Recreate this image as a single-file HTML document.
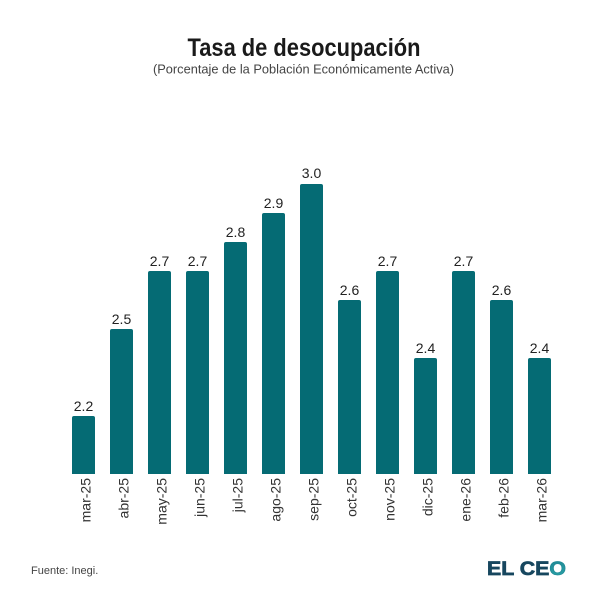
<!DOCTYPE html>
<html>
<head>
<meta charset="utf-8">
<style>
  html, body { margin: 0; padding: 0; background: #ffffff; }
  svg { display: block; font-family: "Liberation Sans", sans-serif; }
</style>
</head>
<body>
<svg width="600" height="600" viewBox="0 0 600 600" xmlns="http://www.w3.org/2000/svg">
  <defs>
    <linearGradient id="og" x1="0" y1="0" x2="1" y2="1">
      <stop offset="0" stop-color="#1a6f84"/>
      <stop offset="1" stop-color="#2aa7aa"/>
    </linearGradient>
  </defs>
  <rect width="600" height="600" fill="#ffffff"/>

  <text x="304" y="56" text-anchor="middle" font-size="25" font-weight="bold" fill="#1a1a1a" textLength="233" lengthAdjust="spacingAndGlyphs">Tasa de desocupación</text>
  <text x="303.5" y="73.5" text-anchor="middle" font-size="13" fill="#444" textLength="301" lengthAdjust="spacingAndGlyphs">(Porcentaje de la Población Económicamente Activa)</text>

  <g fill="#056b74">
    <path d="M72,474 V418 Q72,416 74,416 H93 Q95,416 95,418 V474 Z"/>
    <path d="M110,474 V331 Q110,329 112,329 H131 Q133,329 133,331 V474 Z"/>
    <path d="M148,474 V273 Q148,271 150,271 H169 Q171,271 171,273 V474 Z"/>
    <path d="M186,474 V273 Q186,271 188,271 H207 Q209,271 209,273 V474 Z"/>
    <path d="M224,474 V244 Q224,242 226,242 H245 Q247,242 247,244 V474 Z"/>
    <path d="M262,474 V215 Q262,213 264,213 H283 Q285,213 285,215 V474 Z"/>
    <path d="M300,474 V186 Q300,184 302,184 H321 Q323,184 323,186 V474 Z"/>
    <path d="M338,474 V302 Q338,300 340,300 H359 Q361,300 361,302 V474 Z"/>
    <path d="M376,474 V273 Q376,271 378,271 H397 Q399,271 399,273 V474 Z"/>
    <path d="M414,474 V360 Q414,358 416,358 H435 Q437,358 437,360 V474 Z"/>
    <path d="M452,474 V273 Q452,271 454,271 H473 Q475,271 475,273 V474 Z"/>
    <path d="M490,474 V302 Q490,300 492,300 H511 Q513,300 513,302 V474 Z"/>
    <path d="M528,474 V360 Q528,358 530,358 H549 Q551,358 551,360 V474 Z"/>
  </g>

  <g font-size="14" fill="#222" text-anchor="middle">
    <text x="83.5" y="411">2.2</text>
    <text x="121.5" y="324">2.5</text>
    <text x="159.5" y="266">2.7</text>
    <text x="197.5" y="266">2.7</text>
    <text x="235.5" y="237">2.8</text>
    <text x="273.5" y="208">2.9</text>
    <text x="311.5" y="178">3.0</text>
    <text x="349.5" y="295">2.6</text>
    <text x="387.5" y="266">2.7</text>
    <text x="425.5" y="353">2.4</text>
    <text x="463.5" y="266">2.7</text>
    <text x="501.5" y="295">2.6</text>
    <text x="539.5" y="353">2.4</text>
  </g>

  <g font-size="14" fill="#333" text-anchor="end">
    <text transform="translate(90.5,478) rotate(-90)">mar-25</text>
    <text transform="translate(128.5,478) rotate(-90)">abr-25</text>
    <text transform="translate(166.5,478) rotate(-90)">may-25</text>
    <text transform="translate(204.5,478) rotate(-90)">jun-25</text>
    <text transform="translate(242.5,478) rotate(-90)">jul-25</text>
    <text transform="translate(280.5,478) rotate(-90)">ago-25</text>
    <text transform="translate(318.5,478) rotate(-90)">sep-25</text>
    <text transform="translate(356.5,478) rotate(-90)">oct-25</text>
    <text transform="translate(394.5,478) rotate(-90)">nov-25</text>
    <text transform="translate(432.5,478) rotate(-90)">dic-25</text>
    <text transform="translate(470.5,478) rotate(-90)">ene-26</text>
    <text transform="translate(508.5,478) rotate(-90)">feb-26</text>
    <text transform="translate(546.5,478) rotate(-90)">mar-26</text>
  </g>

  <text x="31" y="574" font-size="11" fill="#444">Fuente: Inegi.</text>

  <text x="487" y="575" font-size="19" font-weight="bold" fill="#17475f" stroke="#17475f" stroke-width="0.7" textLength="79" lengthAdjust="spacingAndGlyphs">EL CE<tspan fill="url(#og)" stroke="#1f8b96">O</tspan></text>
</svg>
</body>
</html>
